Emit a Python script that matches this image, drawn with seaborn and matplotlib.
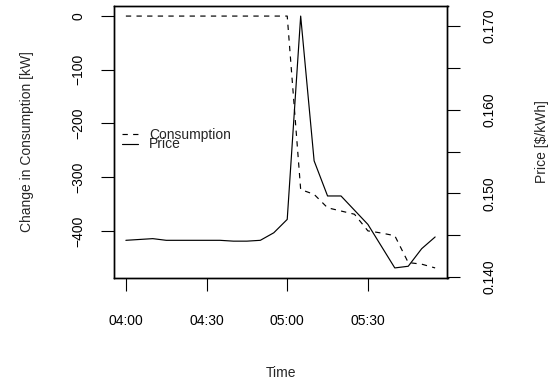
import numpy as np
import pandas as pd
import matplotlib
matplotlib.use("Agg")
import matplotlib.pyplot as plt
import matplotlib.dates as mdates
import seaborn as sns

# ── data ─────────────────────────────────────────────────────────────────
times = [
    "04:00", "04:05", "04:10", "04:15", "04:20", "04:25", "04:30", "04:35",
    "04:40", "04:45", "04:50", "04:55", "05:00", "05:05", "05:10", "05:15",
    "05:20", "05:25", "05:30", "05:35", "05:40", "05:45", "05:50", "05:55",
]
consumption = [
    0, 0, 0, 0, 0, 0, 0, 0,
    0, 0, 0, 0, 0, -323, -332, -357,
    -363, -369, -400, -404, -409, -459, -462, -469,
]
price = [
    0.1444, 0.1445, 0.1446, 0.1444, 0.1444, 0.1444, 0.1444, 0.1444,
    0.1443, 0.1443, 0.1444, 0.1453, 0.1469, 0.1712, 0.1539, 0.1497,
    0.1497, 0.1480, 0.1463, 0.1437, 0.1411, 0.1413, 0.1434, 0.1448,
]
xtick_labels = ["04:00", "04:30", "05:00", "05:30"]
left_ticks = [0, -100, -200, -300, -400]
right_major = [0.140, 0.150, 0.160, 0.170]
right_minor = [0.145, 0.155, 0.165]

df = pd.DataFrame({
    "time": pd.to_datetime(["2020-01-01 " + t for t in times]),
    "consumption": consumption,
    "price": price,
})

sns.set_style("ticks")
plt.rcParams["font.family"] = ["Liberation Sans", "DejaVu Sans"]
plt.rcParams["font.size"] = 10

W, H = 560, 383
fig = plt.figure(figsize=(W / 100, H / 100), dpi=100)
L, R, T, B = 113.5, 447.5, 6, 278
ax = fig.add_axes([L / W, 1 - B / H, (R - L) / W, (B - T) / H])
ax2 = ax.twinx()

lw = 0.85
sns.lineplot(data=df, x="time", y="consumption", ax=ax, color="black",
             lw=lw, linestyle=(0, (4.5, 4.5)), legend=False)
sns.lineplot(data=df, x="time", y="price", ax=ax2, color="black",
             lw=lw, legend=False)

for a in (ax, ax2):
    a.margins(x=0.04, y=0.04)
    for s in a.spines.values():
        s.set_visible(True)
        s.set_color("black")
        s.set_linewidth(1.0)

tick_kw = dict(direction="out", length=9.4, width=0.8, color="black",
               labelsize=10, labelcolor="black")

xt = pd.to_datetime(["2020-01-01 " + t for t in xtick_labels])
ax.set_xticks(mdates.date2num(xt))
ax.set_xticklabels(xtick_labels)
ax.tick_params(axis="x", pad=16.5, **tick_kw)
ax.set_xlabel("Time", fontsize=10)
ax.xaxis.set_label_coords(0.5, -(373 - B) / (B - T))
ax.xaxis.label.set_va("center")

ax.set_yticks(left_ticks)
ax.set_yticklabels([f"{v}".replace("-", "\u2212") for v in left_ticks],
                   rotation=90, va="center")
ax.tick_params(axis="y", pad=10.6, **tick_kw)
ax.set_ylabel("Change in Consumption [kW]", fontsize=10, va="center")
ax.yaxis.set_label_coords(-(L - 27) / (R - L), 0.5)

ax2.set_yticks(right_major)
ax2.set_yticklabels([f"{v:.3f}" for v in right_major], rotation=90,
                    va="center")
ax2.set_yticks(right_minor, minor=True)
ax2.tick_params(axis="y", which="both", pad=15.8, **tick_kw)
ax2.set_ylabel(r"Price [\$/kWh]", fontsize=10, rotation=90, va="center")
ax2.yaxis.set_label_coords((542 - L) / (R - L), 0.5)
ax2.set_xlabel("")

handles = [ax.lines[0], ax2.lines[0]]
fig.legend(handles, ["Consumption", "Price"], loc="center left",
           bbox_to_anchor=(121.5 / W, 1 - 139.5 / H), frameon=False,
           borderpad=0, borderaxespad=0, handlelength=1.2,
           handletextpad=0.8, labelspacing=-0.3, fontsize=10)

fig.savefig("out.png", dpi=100)
